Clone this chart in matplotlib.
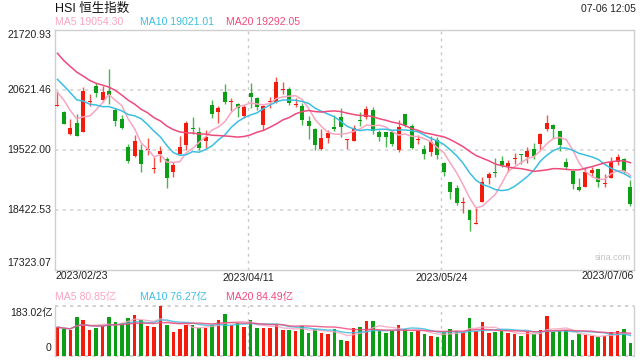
import matplotlib
matplotlib.use('Agg')
import matplotlib.pyplot as plt
import numpy as np
import pandas as pd

plt.rcParams['font.family'] = ['Liberation Sans', 'Noto Sans CJK SC', 'DejaVu Sans']

title = 'HSI 恒生指数'
timestamp = '07-06 12:05'
x_tick_labels = ['2023/02/23', '2023/04/11', '2023/05/24', '2023/07/06']
price_ticks = [21720.93, 20621.46, 19522.00, 18422.53, 17323.07]
price_ma_text = ['MA5 19054.30', 'MA10 19021.01', 'MA20 19292.05']
vol_ma_text = ['MA5 80.85亿', 'MA10 76.27亿', 'MA20 84.49亿']
vol_max_label = '183.02亿'

# closes of the 19 sessions before the window (needed for the moving averages)
prior_closes = [22689, 22069, 21842, 22072, 21958, 21660, 21222, 21298, 21283, 21624,
                21190, 21164, 21113, 20812, 20987, 20719, 20886, 20529, 20423]

opens = [20334, 20224, 19815, 20017, 19858, 20395, 20695, 20438, 20603, 20261,
         20090, 19577, 19418, 19522, 19516, 19180, 19455, 19351, 19125, 19449,
         19620, 19925, 19852, 19693, 20347, 20224, 20585, 20395, 20365, 20145,
         20567, 20481, 19986, 20408, 20408, 20628, 20640, 20352, 20328, 20054,
         19907, 19534, 19748, 19937, 20127, 19699, 19693, 20060, 20133, 20261,
         19846, 19852, 19852, 19522, 20182, 19962, 19705, 19540, 19492, 19705,
         19278, 18936, 18820, 18557, 18423, 18172, 18563, 19009, 19119, 19320,
         19229, 19363, 19443, 19388, 19540, 19638, 19913, 19980, 19870, 19302,
         19137, 18844, 18850, 19101, 19174, 18893, 19015, 19296, 19357, 18850]
highs = [20603, 20237, 20084, 20182, 20670, 20548, 20744, 20701, 21006, 20286,
         20157, 19632, 19791, 19626, 19742, 19400, 19589, 19400, 19296, 19773,
         20054, 20127, 19937, 19882, 20438, 20328, 20731, 20469, 20377, 20341,
         20756, 20499, 20341, 20499, 20866, 20762, 20683, 20469, 20377, 20145,
         19919, 19901, 19889, 20163, 20286, 19724, 19974, 20212, 20322, 20304,
         19889, 19858, 19858, 20066, 20188, 19992, 19797, 19608, 19779, 19754,
         19302, 18942, 18875, 18667, 18423, 18465, 19021, 19119, 19375, 19412,
         19333, 19461, 19443, 19571, 19650, 19840, 20163, 19998, 19870, 19382,
         19137, 19003, 19211, 19217, 19174, 19076, 19388, 19449, 19375, 18972]
lows = [20334, 19992, 19797, 19779, 19858, 20322, 20499, 20408, 20365, 19968,
        19913, 19284, 19388, 19125, 19430, 19107, 19308, 18832, 19033, 19443,
        19522, 19821, 19516, 19565, 20115, 20023, 20365, 20237, 20133, 20115,
        20298, 20249, 19889, 20298, 20377, 20548, 20341, 20316, 19980, 19730,
        19528, 19528, 19656, 19876, 19766, 19547, 19687, 19968, 20096, 19815,
        19693, 19571, 19595, 19492, 19937, 19534, 19638, 19357, 19412, 19351,
        19052, 18624, 18514, 18374, 18044, 18172, 18563, 18905, 19033, 19217,
        19113, 19272, 19259, 19290, 19363, 19522, 19876, 19736, 19510, 19168,
        18801, 18771, 18850, 19021, 18844, 18838, 19015, 19253, 19101, 18502]
closes = [20341, 19998, 19925, 19785, 20603, 20402, 20573, 20585, 20536, 20060,
          19925, 19327, 19687, 19259, 19528, 19192, 19504, 19015, 19247, 19571,
          20017, 19913, 19565, 19760, 20188, 20292, 20408, 20408, 20292, 20310,
          20499, 20316, 20328, 20420, 20768, 20640, 20389, 20365, 20078, 19968,
          19620, 19742, 19828, 19907, 19944, 19711, 19925, 20047, 20273, 19876,
          19760, 19754, 19638, 19944, 19980, 19559, 19717, 19449, 19663, 19430,
          19125, 18759, 18551, 18569, 18239, 18184, 18930, 19076, 19107, 19241,
          19284, 19375, 19430, 19504, 19406, 19815, 20017, 19913, 19614, 19211,
          18905, 18795, 19119, 19162, 18942, 18905, 19308, 19394, 19137, 18539]
volumes = [105.6, 98.3, 94.6, 142.5, 131.4, 94.6, 101.9, 109.3, 142.5, 124.1,
           120.4, 138.8, 149.9, 131.4, 109.3, 105.6, 183.02, 113.0, 87.2, 98.3,
           113.0, 113.0, 101.9, 101.9, 113.0, 131.4, 153.5, 113.0, 120.4, 105.6,
           131.4, 101.9, 101.9, 101.9, 113.0, 94.6, 94.6, 90.9, 109.3, 83.5,
           98.3, 83.5, 79.8, 98.3, 57.7, 54.0, 101.9, 105.6, 127.7, 127.7,
           90.9, 83.5, 90.9, 113.0, 98.3, 87.2, 90.9, 79.8, 72.5, 68.8,
           87.2, 98.3, 90.9, 87.2, 138.8, 90.9, 124.1, 83.5, 87.2, 90.9,
           83.5, 79.8, 72.5, 87.2, 79.8, 94.6, 146.2, 87.2, 90.9, 94.6,
           57.7, 79.8, 76.2, 72.5, 68.8, 72.5, 87.2, 90.9, 98.3, 46.7]

RED = '#f21b0c'
GREEN = '#0c9e14'
MA_COLORS = ['#f8a6c0', '#3bbfe2', '#ee4a7c']
MA_N = [5, 10, 20]
FRAME = '#cfcfcf'
GRID = '#d6d6d6'

W, H = 640, 360
fig = plt.figure(figsize=(6.4, 3.6), dpi=100)

def fx(px):
    return px / W

def fy(py):
    return 1 - py / H

# main axes: x 55..634, y 30..270
ax = fig.add_axes([fx(55), fy(270), fx(634) - fx(55), fy(30) - fy(270)])
axv = fig.add_axes([fx(55), fy(356), fx(634) - fx(55), fy(306) - fy(356)])

n = len(closes)
x = np.arange(n)
o = np.array(opens, float); c = np.array(closes, float)
hi = np.array(highs, float); lo = np.array(lows, float)
up = c >= o
colors = np.where(up, RED, GREEN)

ymin, ymax = price_ticks[-1], price_ticks[0]
px_unit = (ymax - ymin) / 240.0

# wicks
ax.vlines(x, lo, hi, colors=colors, lw=1.0, alpha=0.75, zorder=2)
# bodies
body_h = np.maximum(np.abs(c - o), px_unit * 1.1)
ax.bar(x, body_h, bottom=np.minimum(o, c), width=0.62, color=colors, zorder=3, linewidth=0)

# moving averages
full = pd.Series(prior_closes + closes, dtype=float)
for nn, col in zip(MA_N, MA_COLORS):
    ma = full.rolling(nn).mean().iloc[len(prior_closes):].values
    ax.plot(x, ma, color=col, lw=1.1, zorder=4)

xl = (-0.38, 89.55)
ax.set_xlim(*xl)
ax.set_ylim(ymin, ymax)
for yv in price_ticks[1:-1]:
    ax.axhline(yv, color=GRID, lw=1.2, ls=(0, (2, 2.5)), zorder=1)
grid_x = [29.65, 59.65]
for gx in grid_x:
    ax.axvline(gx, color='#c8c8c8', lw=1.0, ls=(0, (2, 3)), zorder=1)
    axv.axvline(gx, color='#c8c8c8', lw=1.0, ls=(0, (2, 3)), zorder=1)
ax.set_xticks([]); ax.set_yticks([])
for s in ax.spines.values():
    s.set_color(FRAME); s.set_linewidth(1.0)

# y labels main
lab_kw = dict(fontsize=7.6, color='#222222', ha='right')
fig.text(fx(51), fy(35), f'{price_ticks[0]:.2f}', va='center', **lab_kw)
for yv, py in zip(price_ticks[1:-1], [90, 150, 210]):
    fig.text(fx(51), fy(py), f'{yv:.2f}', va='center', **lab_kw)
fig.text(fx(51), fy(263), f'{price_ticks[-1]:.2f}', va='center', **lab_kw)

# x labels
fig.text(fx(55), fy(276), x_tick_labels[0], ha='left', va='center', fontsize=7.6, color='#222222')
for lab, gx in zip(x_tick_labels[1:3], grid_x):
    ax.annotate(lab, xy=(gx, 0), xycoords=('data', 'axes fraction'), xytext=(0, -6),
                textcoords='offset points', ha='center', va='center', fontsize=7.6, color='#222222')
fig.text(fx(634), fy(276), x_tick_labels[3], ha='right', va='center', fontsize=7.6, color='#222222')

# titles
fig.text(fx(55), fy(9), title, ha='left', va='center', fontsize=9, color='#111111')
fig.text(fx(636), fy(9), timestamp, ha='right', va='center', fontsize=7.4, color='#222222')
for txt, col, px in zip(price_ma_text, MA_COLORS, [55, 140, 226]):
    fig.text(fx(px), fy(22), txt, ha='left', va='center', fontsize=7.6, color=col)

ax.text(0.995, 0.035, 'sina.com', transform=ax.transAxes, ha='right', va='bottom',
        fontsize=6.5, color='#c4c4c4')

# volume panel
v = np.array(volumes, float)
axv.bar(x, v, width=0.55, color=colors, linewidth=0, zorder=2)
vfull = pd.Series(v)
for nn, col in zip(MA_N, MA_COLORS):
    vma = vfull.rolling(nn, min_periods=1).mean().values
    axv.plot(x, vma, color=col, lw=1.0, alpha=0.85, zorder=3)
axv.set_xlim(*xl)
axv.set_ylim(0, max(volumes))
axv.set_xticks([]); axv.set_yticks([])
for k in ['top', 'bottom']:
    axv.spines[k].set_visible(False)
for k in ['left', 'right']:
    axv.spines[k].set_color(FRAME); axv.spines[k].set_linewidth(1.0)
for yv in [0, max(volumes)]:
    axv.axhline(yv, color='#c8c8c8', lw=1.2, ls=(0, (2, 2.5)), zorder=1, clip_on=False)

for txt, col, px in zip(vol_ma_text, MA_COLORS, [55, 140, 226]):
    fig.text(fx(px), fy(297), txt, ha='left', va='center', fontsize=7.6, color=col)
fig.text(fx(53), fy(313), vol_max_label, ha='right', va='center', fontsize=7.6, color='#222222')
fig.text(fx(51), fy(348), '0', ha='right', va='center', fontsize=7.6, color='#222222')

fig.savefig('out.png', dpi=100)
